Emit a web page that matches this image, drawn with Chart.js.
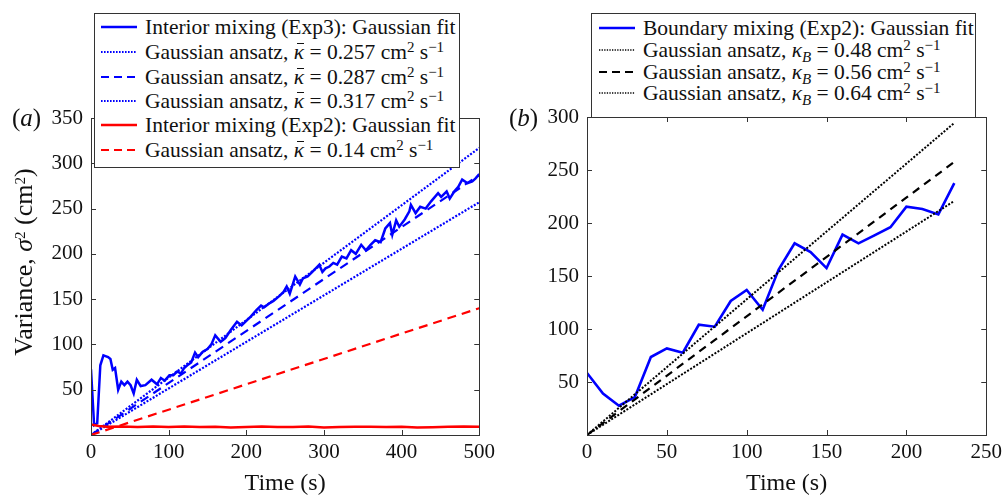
<!DOCTYPE html>
<html>
<head>
<meta charset="utf-8">
<script src="https://cdn.jsdelivr.net/npm/chart.js@4.4.1/dist/chart.umd.min.js"></script>
<style>
  body { margin: 0; width: 1007px; height: 498px; overflow: hidden; position: relative; background: #fff; font-family: "Liberation Serif", serif; color: #111; }
  canvas { position: absolute; top: 0; }
  #chartA { left: 0; }
  #chartB { left: 500px; }
  .legend { position: absolute; background: #fff; border: 1px solid #333; font-size: 21.5px; z-index: 2; }
  .row { position: absolute; left: 0; height: 24px; line-height: 24px; white-space: nowrap; }
  .row svg { position: absolute; top: 10px; }
  .row span.t { position: absolute; }
  sup { font-size: 15px; vertical-align: 7px; line-height: 0; }
  sub { font-size: 15px; vertical-align: -5px; line-height: 0; }
  .kbar { position: relative; display: inline-block; }
  .kbar::after { content: ""; position: absolute; left: 3px; right: 0px; top: 3px; border-top: 1.3px solid #111; }
  .panel { position: absolute; font-size: 25px; line-height: 28px; }
  #ytitle { position: absolute; left: 24px; top: 262px; font-size: 26px; white-space: nowrap; transform: translate(-50%, -50%) rotate(-90deg); }
</style>
</head>
<body>
<canvas id="chartA" width="500" height="498"></canvas>
<canvas id="chartB" width="507" height="498"></canvas>

<div class="panel" style="left:12px; top:104px;">(<i>a</i>)</div>
<div class="panel" style="left:509px; top:104px;">(<i>b</i>)</div>
<div id="ytitle">Variance, <i>σ</i><sup>2</sup> (cm<sup>2</sup>)</div>

<div class="legend" id="legA" style="left:94px; top:13px; width:364px; height:153px;"></div>
<div class="legend" id="legB" style="left:591px; top:13px; width:383px; height:103px;"></div>

<script>
// panel (a): interior mixing, Exp3 gaussian fit
const exp3Time = [0, 4, 8, 12, 16, 22, 25, 28, 31, 35, 39, 43, 47, 51, 55, 59, 64, 70, 78, 85,
  90, 95, 101, 106, 111, 116, 120, 124, 129, 134, 138, 144, 150, 155, 160, 167, 173, 180, 188, 194,
  200, 206, 213, 219, 223, 229, 235, 242, 248, 252, 256, 263, 269, 273, 279, 286, 294, 298, 302, 307,
  312, 317, 323, 329, 335, 341, 348, 354, 360, 366, 373, 379, 385, 388, 393, 397, 404, 410, 412, 418,
  424, 431, 438, 447, 451, 458, 462, 468, 473, 478, 485, 491, 495, 500];
const exp3Var = [72.5, 11, 13, 77, 88, 86, 84, 72, 74, 50, 59, 55, 59, 55, 46, 61, 54, 55, 61, 56,
  63, 60, 66, 66, 70, 68, 74, 77, 80, 91, 86, 92, 95, 100, 110, 103, 107, 116, 125, 121,
  126, 131, 138, 143, 141, 145, 148, 153, 158, 164, 156, 175, 166, 173, 175, 181, 188, 180, 184, 186,
  190, 188, 197, 195, 204, 200, 210, 204, 210, 215, 213, 228, 234, 221, 237, 230, 238, 247, 254, 245,
  252, 250, 258, 267, 263, 269, 261, 269, 274, 282, 278, 280, 283, 288];

// panel (a): interior mixing, Exp2 gaussian fit
const exp2Time = [0, 10, 20, 40, 60, 80, 100, 120, 140, 160, 180, 200, 220, 240, 260, 280, 300, 320,
  340, 360, 380, 400, 420, 440, 460, 480, 500];
const exp2Var = [11.5, 10, 9, 9.3, 8.7, 9.3, 8.7, 9.5, 8.9, 9.2, 8.3, 8.8, 9.3, 8.8, 8.7, 9.5, 8.3, 8.7,
  9.0, 9.2, 8.9, 9.2, 8.2, 8.6, 9.1, 9.4, 9.1];

// panel (a): gaussian ansatz lines (end points)
const ansatzTimeA = [0, 500];
const ansatz257 = [0, 257];
const ansatz287 = [0, 287];
const ansatz317 = [0, 317];
const ansatz14 = [0, 140];

// panel (b): boundary mixing, Exp2
const boundTime = [0, 10, 20, 30, 40, 50, 60, 70, 80, 90, 100, 110, 120, 130, 140, 150, 160, 170,
  180, 190, 200, 210, 220, 230];
const boundVar = [58.5, 39, 27.6, 35.8, 73.6, 81.7, 77.6, 104, 102.2, 126.4, 136.8, 118.2, 156, 180.8,
  172.6, 157.5, 189, 180.8, 188.3, 196, 215.4, 213.2, 208.1, 237.7];

const ansatzTimeB = [0, 230];
const ansatzB48 = [0, 220.8];
const ansatzB56 = [0, 257.6];
const ansatzB64 = [0, 294.4];

const xTicksA = [0, 100, 200, 300, 400, 500];
const yTicksA = [0, 50, 100, 150, 200, 250, 300, 350];
const xTicksB = [0, 50, 100, 150, 200, 250];
const yTicksB = [0, 50, 100, 150, 200, 250, 300];

const BLUE = "#0000ff";
const RED = "#ff0000";
const FONT = "Liberation Serif";

function pts(xs, ys) {
  return xs.map((x, i) => ({ x: x, y: ys[i] }));
}

function line(xs, ys, color, width, dash) {
  return {
    data: pts(xs, ys),
    borderColor: color,
    borderWidth: width,
    borderDash: dash || [],
    pointRadius: 0,
    fill: false,
    tension: 0
  };
}

// box round the plot with inward ticks on all four sides
const boxTicks = {
  id: "boxTicks",
  afterDatasetsDraw(chart) {
    const c = chart.ctx;
    const a = chart.chartArea;
    const len = 5;
    c.save();
    c.strokeStyle = "#333";
    c.lineWidth = 1;
    c.setLineDash([]);
    c.beginPath();
    chart.scales.x.ticks.forEach(t => {
      const px = Math.round(chart.scales.x.getPixelForValue(t.value)) + 0.5;
      c.moveTo(px, a.bottom); c.lineTo(px, a.bottom - len);
      c.moveTo(px, a.top); c.lineTo(px, a.top + len);
    });
    chart.scales.y.ticks.forEach(t => {
      const py = Math.round(chart.scales.y.getPixelForValue(t.value)) + 0.5;
      c.moveTo(a.left, py); c.lineTo(a.left + len, py);
      c.moveTo(a.right, py); c.lineTo(a.right - len, py);
    });
    c.stroke();
    c.strokeRect(Math.round(a.left) + 0.5, Math.round(a.top) + 0.5,
      Math.round(a.right - a.left), Math.round(a.bottom - a.top));
    c.restore();
  }
};

function makeOptions(xMin, xMax, xTicks, yMax, yTicks, pad, yWidth) {
  return {
    responsive: false,
    animation: false,
    devicePixelRatio: 1,
    layout: { padding: pad },
    plugins: { legend: { display: false }, tooltip: { enabled: false } },
    scales: {
      x: {
        type: "linear",
        min: xMin,
        max: xMax,
        afterBuildTicks: s => { s.ticks = xTicks.map(v => ({ value: v })); },
        grid: { display: false, drawTicks: false },
        border: { display: false },
        ticks: { padding: 5, color: "#111", maxRotation: 0, font: { family: FONT, size: 21 } },
        title: { display: true, text: "Time (s)", color: "#111", font: { family: FONT, size: 24 }, padding: { top: 0, bottom: 0 } },
        afterFit: s => { s.height = 63; }
      },
      y: {
        min: 0,
        max: yMax,
        afterBuildTicks: s => { s.ticks = yTicks.map(v => ({ value: v })); },
        grid: { display: false, drawTicks: false },
        border: { display: false },
        ticks: { padding: 8, color: "#111", font: { family: FONT, size: 21 }, callback: v => v === 0 ? "" : v },
        afterFit: s => { s.width = yWidth; }
      }
    }
  };
}

new Chart(document.getElementById("chartA"), {
  type: "line",
  data: {
    datasets: [
      line(ansatzTimeA, ansatz14, RED, 2.2, [9, 6]),
      line(exp2Time, exp2Var, RED, 2.5),
      line(ansatzTimeA, ansatz257, BLUE, 2.2, [2, 1.6]),
      line(ansatzTimeA, ansatz317, BLUE, 2.2, [2, 1.6]),
      line(ansatzTimeA, ansatz287, BLUE, 2.2, [9, 6]),
      line(exp3Time, exp3Var, BLUE, 2.5)
    ]
  },
  options: makeOptions(0, 500, xTicksA, 350, yTicksA, { left: 0, right: 8, top: 118, bottom: 0 }, 91),
  plugins: [boxTicks]
});

new Chart(document.getElementById("chartB"), {
  type: "line",
  data: {
    datasets: [
      line(ansatzTimeB, ansatzB48, "#000", 2, [2, 1.6]),
      line(ansatzTimeB, ansatzB64, "#000", 2, [2, 1.6]),
      line(ansatzTimeB, ansatzB56, "#000", 2.2, [8, 6]),
      line(boundTime, boundVar, BLUE, 2.6)
    ]
  },
  options: makeOptions(0, 250, xTicksB, 300, yTicksB, { left: 0, right: 18, top: 117, bottom: 0 }, 87),
  plugins: [boxTicks]
});

// legends (html, so the superscripts come out right)
const kbar = '<i class="kbar">κ</i>';
const kB = "<i>κ<sub>B</sub></i>";
const unit = " cm<sup>2</sup> s<sup>−1</sup>";
const legendA = [
  { color: BLUE, width: 2.5, dash: "", text: "Interior mixing (Exp3): Gaussian fit" },
  { color: BLUE, width: 2, dash: "1.6 1.4", text: "Gaussian ansatz, " + kbar + " = 0.257" + unit },
  { color: BLUE, width: 2.2, dash: "8 5", text: "Gaussian ansatz, " + kbar + " = 0.287" + unit },
  { color: BLUE, width: 2, dash: "1.6 1.4", text: "Gaussian ansatz, " + kbar + " = 0.317" + unit },
  { color: RED, width: 2.5, dash: "", text: "Interior mixing (Exp2): Gaussian fit" },
  { color: RED, width: 2.2, dash: "8 5", text: "Gaussian ansatz, " + kbar + " = 0.14" + unit }
];
const legendB = [
  { color: BLUE, width: 2.5, dash: "", text: "Boundary mixing (Exp2): Gaussian fit" },
  { color: "#000", width: 1.6, dash: "1.3 1.3", text: "Gaussian ansatz, " + kB + " = 0.48" + unit },
  { color: "#000", width: 2.2, dash: "8 5", text: "Gaussian ansatz, " + kB + " = 0.56" + unit },
  { color: "#000", width: 1.6, dash: "1.3 1.3", text: "Gaussian ansatz, " + kB + " = 0.64" + unit }
];

function fillLegend(id, items, rowCenters, sampleLeft, textLeft) {
  const box = document.getElementById(id);
  items.forEach((it, i) => {
    const row = document.createElement("div");
    row.className = "row";
    row.style.top = (rowCenters[i] - 12) + "px";
    row.innerHTML =
      `<svg width="36" height="4" style="left:${sampleLeft}px"><line x1="0" y1="2" x2="36" y2="2" stroke="${it.color}" stroke-width="${it.width}" stroke-dasharray="${it.dash}"/></svg>` +
      `<span class="t" style="left:${textLeft}px">${it.text}</span>`;
    box.appendChild(row);
  });
}

fillLegend("legA", legendA, [13, 38, 63, 87, 111, 136], 6, 50);
fillLegend("legB", legendB, [14, 36, 58, 79], 7, 51);
</script>
</body>
</html>
